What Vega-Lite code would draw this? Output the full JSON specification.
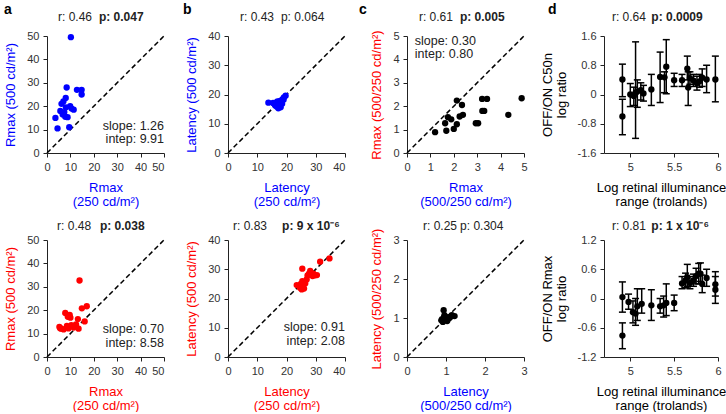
{
  "$schema": "https://vega.github.io/schema/vega-lite/v6.json",
  "background": "white",
  "padding": {"left": 0, "top": 3, "right": 0, "bottom": 0},
  "config": {
    "view": {"stroke": null},
    "font": "Liberation Sans",
    "axis": {"domain": true, "ticks": true, "grid": false, "labelOverlap": false, "labelFlush": false, "domainColor": "#222222", "tickColor": "#222222", "labelColor": "#333333", "labelFontSize": 11, "titleFontSize": 13, "titleFontWeight": "normal", "tickSize": 4, "labelPadding": 4, "titlePadding": 9, "titleLineHeight": 14}
  },
  "datasets": {
    "note": [{"k": 1}],
    "aTop": [{"x":10.2,"y":49.5},{"x":8.4,"y":28},{"x":12.8,"y":27},{"x":14.8,"y":27},{"x":14.8,"y":25},{"x":8,"y":23.5},{"x":7,"y":22},{"x":5.7,"y":18},{"x":7.4,"y":17.5},{"x":8.1,"y":19.5},{"x":9.9,"y":20},{"x":11.4,"y":18.5},{"x":7.8,"y":15.5},{"x":8.8,"y":15.3},{"x":6.7,"y":16.5},{"x":3.6,"y":15},{"x":4.5,"y":10.5},{"x":9.5,"y":11},{"x":6.2,"y":21},{"x":10.5,"y":19}],
    "aBot": [{"x":13.9,"y":32.7},{"x":14.9,"y":20.8},{"x":17,"y":21.7},{"x":16.1,"y":15.2},{"x":13.2,"y":16.2},{"x":7.8,"y":18.8},{"x":9.7,"y":18},{"x":8.9,"y":17.2},{"x":10,"y":16.8},{"x":5.3,"y":12.9},{"x":6.1,"y":12.1},{"x":8.5,"y":13.3},{"x":10.4,"y":13.6},{"x":11.4,"y":12.6},{"x":13.5,"y":12.1},{"x":7.1,"y":11.8},{"x":12.4,"y":13.9},{"x":5.6,"y":12.3},{"x":9.2,"y":12.2}],
    "bTop": [{"x":13.8,"y":17.2},{"x":15.4,"y":17.1},{"x":16.9,"y":17.6},{"x":17.4,"y":16.6},{"x":18,"y":15.6},{"x":16.6,"y":15.9},{"x":18.6,"y":18.3},{"x":19.1,"y":19},{"x":19.7,"y":19.6},{"x":17.8,"y":17.8},{"x":16.1,"y":16.3},{"x":17.6,"y":17},{"x":18.5,"y":16.8},{"x":17.2,"y":15.3},{"x":16.4,"y":17.2},{"x":19,"y":18.2},{"x":15.8,"y":16.8},{"x":18.2,"y":17.3}],
    "bBot": [{"x":34.7,"y":33.7},{"x":31.5,"y":32.6},{"x":25.4,"y":30.2},{"x":28.1,"y":29.4},{"x":29.2,"y":28.5},{"x":27.7,"y":28.5},{"x":30.4,"y":28},{"x":28.9,"y":27.7},{"x":27.2,"y":27.9},{"x":25.4,"y":25.9},{"x":26.9,"y":26.5},{"x":24.9,"y":25},{"x":23.5,"y":24.6},{"x":24.6,"y":23.7},{"x":26,"y":23.4},{"x":25.2,"y":23.1},{"x":26.4,"y":25.1},{"x":29.6,"y":27.9}],
    "cTop": [{"x":1.2,"y":0.89},{"x":1.68,"y":0.95},{"x":2.0,"y":1.03},{"x":1.63,"y":1.27},{"x":2.13,"y":1.23},{"x":1.75,"y":1.53},{"x":1.89,"y":1.44},{"x":2.13,"y":2.24},{"x":2.35,"y":2.05},{"x":2.25,"y":1.56},{"x":2.39,"y":1.63},{"x":2.94,"y":1.27},{"x":3.04,"y":1.27},{"x":3.22,"y":1.8},{"x":3.3,"y":1.8},{"x":3.21,"y":2.31},{"x":3.42,"y":2.31},{"x":4.33,"y":1.63},{"x":4.9,"y":2.34}],
    "cBot": [{"x":0.94,"y":1.2},{"x":0.96,"y":1.07},{"x":0.88,"y":0.94},{"x":0.92,"y":0.9},{"x":1.0,"y":0.96},{"x":1.09,"y":1.0},{"x":1.22,"y":1.05},{"x":1.03,"y":0.92},{"x":0.98,"y":0.99},{"x":1.12,"y":1.04},{"x":1.05,"y":0.97},{"x":0.9,"y":0.97},{"x":0.95,"y":1.02},{"x":1.15,"y":1.07},{"x":1.0,"y":1.03}],
    "dTop": [{"x":4.91,"y":0.41,"lo":-0.06,"hi":0.83},{"x":4.91,"y":-0.6,"lo":-1.1,"hi":-0.13},{"x":5.0,"y":0.0,"lo":-0.33,"hi":0.3},{"x":5.04,"y":-0.04,"lo":-0.3,"hi":0.2},{"x":5.06,"y":0.05,"lo":-1.2,"hi":1.44},{"x":5.08,"y":0.08,"lo":-0.35,"hi":0.4},{"x":5.12,"y":0.12,"lo":-0.15,"hi":0.32},{"x":5.15,"y":0.03,"lo":-0.18,"hi":0.25},{"x":5.24,"y":0.14,"lo":-0.3,"hi":0.55},{"x":5.34,"y":0.48,"lo":-0.22,"hi":1.16},{"x":5.39,"y":0.47,"lo":0.05,"hi":0.62},{"x":5.41,"y":0.76,"lo":0.02,"hi":1.5},{"x":5.5,"y":0.39,"lo":0.22,"hi":0.58},{"x":5.59,"y":0.39,"lo":0.22,"hi":0.55},{"x":5.65,"y":0.71,"lo":0.4,"hi":1.05},{"x":5.66,"y":0.19,"lo":-0.3,"hi":0.62},{"x":5.68,"y":0.45,"lo":0.28,"hi":0.62},{"x":5.72,"y":0.38,"lo":0.22,"hi":0.55},{"x":5.76,"y":0.31,"lo":0.12,"hi":0.5},{"x":5.79,"y":0.36,"lo":0.2,"hi":0.55},{"x":5.82,"y":0.46,"lo":0.22,"hi":0.7},{"x":5.87,"y":0.41,"lo":0.05,"hi":0.8},{"x":5.97,"y":0.41,"lo":-0.2,"hi":1.05}],
    "dBot": [{"x":4.91,"y":0.03,"lo":-0.28,"hi":0.34},{"x":4.91,"y":-0.76,"lo":-1.03,"hi":-0.5},{"x":4.98,"y":-0.07,"lo":-0.22,"hi":0.09},{"x":5.03,"y":-0.28,"lo":-0.5,"hi":-0.05},{"x":5.06,"y":-0.31,"lo":-0.55,"hi":0.0},{"x":5.08,"y":-0.16,"lo":-0.45,"hi":0.2},{"x":5.13,"y":-0.11,"lo":-0.3,"hi":0.2},{"x":5.24,"y":-0.14,"lo":-0.45,"hi":0.18},{"x":5.34,"y":-0.16,"lo":-0.3,"hi":0.0},{"x":5.38,"y":-0.14,"lo":-0.38,"hi":0.05},{"x":5.41,"y":-0.09,"lo":-0.35,"hi":0.3},{"x":5.5,"y":-0.09,"lo":-0.25,"hi":0.07},{"x":5.59,"y":0.31,"lo":0.2,"hi":0.45},{"x":5.63,"y":0.37,"lo":0.22,"hi":0.52},{"x":5.65,"y":0.44,"lo":0.25,"hi":0.7},{"x":5.68,"y":0.32,"lo":0.2,"hi":0.45},{"x":5.72,"y":0.37,"lo":0.25,"hi":0.5},{"x":5.75,"y":0.46,"lo":0.3,"hi":0.62},{"x":5.78,"y":0.51,"lo":0.3,"hi":0.72},{"x":5.8,"y":0.51,"lo":0.35,"hi":0.73},{"x":5.82,"y":0.3,"lo":0.12,"hi":0.48},{"x":5.87,"y":0.42,"lo":0.25,"hi":0.6},{"x":5.97,"y":0.29,"lo":0.05,"hi":0.55},{"x":5.97,"y":0.18,"lo":-0.1,"hi":0.45}]
  },
  "columns": 4,
  "spacing": {"column": 0, "row": 11},
  "bounds": "full",
  "align": "each",
  "concat": [
    {
      "width": 117, "height": 117,
      "layer": [
        {"data": {"name": "note"}, "mark": {"type": "rule", "strokeDash": [5, 3], "strokeWidth": 1.5, "color": "#000"}, "encoding": {"x": {"datum": 0, "type": "quantitative", "axis": {"domain": true, "ticks": true, "labelOverlap": false, "values": [0,10,20,30,40,50]}}, "y": {"datum": 0, "type": "quantitative", "axis": {"domain": true, "ticks": true, "labelOverlap": false, "values": [0,10,20,30,40,50]}}, "x2": {"datum": 50}, "y2": {"datum": 50}}},
        {"data": {"name": "note"}, "mark": {"type": "rule", "opacity": 0, "strokeWidth": 0.01}, "encoding": {"x": {"datum": -19.66, "type": "quantitative", "axis": {"domain": true, "ticks": true, "labelOverlap": false, "values": [0,10,20,30,40,50]}}, "x2": {"datum": 55.56}, "y": {"datum": 25, "type": "quantitative", "axis": {"domain": true, "ticks": true, "labelOverlap": false, "values": [0,10,20,30,40,50]}}}},
        {"data": {"name": "aTop"}, "mark": {"type": "circle", "size": 40, "color": "#0000ff", "opacity": 1}, "encoding": {"x": {"field": "x", "type": "quantitative", "scale": {"domain": [0, 50], "nice": false, "zero": false}, "axis": {"domain": true, "ticks": true, "labelOverlap": false, "values": [0,10,20,30,40,50], "title": ["Rmax", "(250 cd/m²)"], "titleColor": "#0000ff", "labelAlign": {"condition": {"test": "datum.value == 50", "value": "right"}, "value": "center"}}}, "y": {"field": "y", "type": "quantitative", "scale": {"domain": [0, 50], "nice": false, "zero": false}, "axis": {"domain": true, "ticks": true, "labelOverlap": false, "values": [0,10,20,30,40,50], "title": "Rmax (500 cd/m²)", "titleColor": "#0000ff"}}}},
        {"data": {"name": "note"}, "mark": {"type": "text", "text": "a", "fontSize": 14, "fontWeight": "bold", "color": "#000", "align": "left", "baseline": "alphabetic"}, "encoding": {"x": {"datum": -18.4, "type": "quantitative", "axis": {"domain": true, "ticks": true, "labelOverlap": false, "values": [0,10,20,30,40,50]}}, "y": {"datum": 59.4, "type": "quantitative", "axis": {"domain": true, "ticks": true, "labelOverlap": false, "values": [0,10,20,30,40,50]}}}},
        {"data": {"name": "note"}, "mark": {"type": "text", "text": "r: 0.46", "fontSize": 12, "color": "#222", "align": "left", "baseline": "alphabetic"}, "encoding": {"x": {"datum": 4.7, "type": "quantitative", "axis": {"domain": true, "ticks": true, "labelOverlap": false, "values": [0,10,20,30,40,50]}}, "y": {"datum": 56.4, "type": "quantitative", "axis": {"domain": true, "ticks": true, "labelOverlap": false, "values": [0,10,20,30,40,50]}}}},
        {"data": {"name": "note"}, "mark": {"type": "text", "text": "p: 0.047", "fontWeight": "bold", "fontSize": 12, "color": "#222", "align": "left", "baseline": "alphabetic"}, "encoding": {"x": {"datum": 22.2, "type": "quantitative", "axis": {"domain": true, "ticks": true, "labelOverlap": false, "values": [0,10,20,30,40,50]}}, "y": {"datum": 56.4, "type": "quantitative", "axis": {"domain": true, "ticks": true, "labelOverlap": false, "values": [0,10,20,30,40,50]}}}},
        {"data": {"name": "note"}, "mark": {"type": "text", "text": "slope: 1.26", "align": "right", "baseline": "alphabetic", "fontSize": 12.5, "color": "#222"}, "encoding": {"x": {"datum": 50, "type": "quantitative", "axis": {"domain": true, "ticks": true, "labelOverlap": false, "values": [0,10,20,30,40,50]}}, "y": {"datum": 10.0, "type": "quantitative", "axis": {"domain": true, "ticks": true, "labelOverlap": false, "values": [0,10,20,30,40,50]}}}},
        {"data": {"name": "note"}, "mark": {"type": "text", "text": "intep: 9.91", "align": "right", "baseline": "alphabetic", "fontSize": 12.5, "color": "#222"}, "encoding": {"x": {"datum": 50, "type": "quantitative", "axis": {"domain": true, "ticks": true, "labelOverlap": false, "values": [0,10,20,30,40,50]}}, "y": {"datum": 4.2, "type": "quantitative", "axis": {"domain": true, "ticks": true, "labelOverlap": false, "values": [0,10,20,30,40,50]}}}}
      ]
    },
    {
      "width": 117, "height": 117,
      "layer": [
        {"data": {"name": "note"}, "mark": {"type": "rule", "strokeDash": [5, 3], "strokeWidth": 1.5, "color": "#000"}, "encoding": {"x": {"datum": 0, "type": "quantitative", "axis": {"domain": true, "ticks": true, "labelOverlap": false, "values": [0,10,20,30,40]}}, "y": {"datum": 0, "type": "quantitative", "axis": {"domain": true, "ticks": true, "labelOverlap": false, "values": [0,10,20,30,40]}}, "x2": {"datum": 40}, "y2": {"datum": 40}}},
        {"data": {"name": "note"}, "mark": {"type": "rule", "opacity": 0, "strokeWidth": 0.01}, "encoding": {"x": {"datum": -17.09, "type": "quantitative", "axis": {"domain": true, "ticks": true, "labelOverlap": false, "values": [0,10,20,30,40]}}, "x2": {"datum": 43.76}, "y": {"datum": 20, "type": "quantitative", "axis": {"domain": true, "ticks": true, "labelOverlap": false, "values": [0,10,20,30,40]}}}},
        {"data": {"name": "bTop"}, "mark": {"type": "circle", "size": 40, "color": "#0000ff", "opacity": 1}, "encoding": {"x": {"field": "x", "type": "quantitative", "scale": {"domain": [0, 40], "nice": false, "zero": false}, "axis": {"domain": true, "ticks": true, "labelOverlap": false, "values": [0,10,20,30,40], "title": ["Latency", "(250 cd/m²)"], "titleColor": "#0000ff", "labelAlign": {"condition": {"test": "datum.value == 40", "value": "right"}, "value": "center"}}}, "y": {"field": "y", "type": "quantitative", "scale": {"domain": [0, 40], "nice": false, "zero": false}, "axis": {"domain": true, "ticks": true, "labelOverlap": false, "values": [0,10,20,30,40], "title": "Latency (500 cd/m²)", "titleColor": "#0000ff"}}}},
        {"data": {"name": "note"}, "mark": {"type": "text", "text": "b", "fontSize": 14, "fontWeight": "bold", "color": "#000", "align": "left", "baseline": "alphabetic"}, "encoding": {"x": {"datum": -15.4, "type": "quantitative", "axis": {"domain": true, "ticks": true, "labelOverlap": false, "values": [0,10,20,30,40]}}, "y": {"datum": 47.5, "type": "quantitative", "axis": {"domain": true, "ticks": true, "labelOverlap": false, "values": [0,10,20,30,40]}}}},
        {"data": {"name": "note"}, "mark": {"type": "text", "text": "r: 0.43", "fontSize": 12, "color": "#222", "align": "left", "baseline": "alphabetic"}, "encoding": {"x": {"datum": 4.1, "type": "quantitative", "axis": {"domain": true, "ticks": true, "labelOverlap": false, "values": [0,10,20,30,40]}}, "y": {"datum": 45.1, "type": "quantitative", "axis": {"domain": true, "ticks": true, "labelOverlap": false, "values": [0,10,20,30,40]}}}},
        {"data": {"name": "note"}, "mark": {"type": "text", "text": "p: 0.064", "fontSize": 12, "color": "#222", "align": "left", "baseline": "alphabetic"}, "encoding": {"x": {"datum": 18.1, "type": "quantitative", "axis": {"domain": true, "ticks": true, "labelOverlap": false, "values": [0,10,20,30,40]}}, "y": {"datum": 45.1, "type": "quantitative", "axis": {"domain": true, "ticks": true, "labelOverlap": false, "values": [0,10,20,30,40]}}}}
      ]
    },
    {
      "width": 117, "height": 117,
      "layer": [
        {"data": {"name": "note"}, "mark": {"type": "rule", "strokeDash": [5, 3], "strokeWidth": 1.5, "color": "#000"}, "encoding": {"x": {"datum": 0, "type": "quantitative", "axis": {"domain": true, "ticks": true, "labelOverlap": false, "values": [0,1,2,3,4,5]}}, "y": {"datum": 0, "type": "quantitative", "axis": {"domain": true, "ticks": true, "labelOverlap": false, "values": [0,1,2,3,4,5]}}, "x2": {"datum": 5}, "y2": {"datum": 5}}},
        {"data": {"name": "note"}, "mark": {"type": "rule", "opacity": 0, "strokeWidth": 0.01}, "encoding": {"x": {"datum": -2.137, "type": "quantitative", "axis": {"domain": true, "ticks": true, "labelOverlap": false, "values": [0,1,2,3,4,5]}}, "x2": {"datum": 5.385}, "y": {"datum": 2.5, "type": "quantitative", "axis": {"domain": true, "ticks": true, "labelOverlap": false, "values": [0,1,2,3,4,5]}}}},
        {"data": {"name": "cTop"}, "mark": {"type": "circle", "size": 40, "color": "#000", "opacity": 1}, "encoding": {"x": {"field": "x", "type": "quantitative", "scale": {"domain": [0, 5], "nice": false, "zero": false}, "axis": {"domain": true, "ticks": true, "labelOverlap": false, "values": [0,1,2,3,4,5], "title": ["Rmax", "(500/250 cd/m²)"], "titleColor": "#0000ff"}}, "y": {"field": "y", "type": "quantitative", "scale": {"domain": [0, 5], "nice": false, "zero": false}, "axis": {"domain": true, "ticks": true, "labelOverlap": false, "values": [0,1,2,3,4,5], "title": "Rmax (500/250 cd/m²)", "titleColor": "#ff0000"}}}},
        {"data": {"name": "note"}, "mark": {"type": "text", "text": "c", "fontSize": 14, "fontWeight": "bold", "color": "#000", "align": "left", "baseline": "alphabetic"}, "encoding": {"x": {"datum": -2.05, "type": "quantitative", "axis": {"domain": true, "ticks": true, "labelOverlap": false, "values": [0,1,2,3,4,5]}}, "y": {"datum": 5.94, "type": "quantitative", "axis": {"domain": true, "ticks": true, "labelOverlap": false, "values": [0,1,2,3,4,5]}}}},
        {"data": {"name": "note"}, "mark": {"type": "text", "text": "r: 0.61", "fontSize": 12, "color": "#222", "align": "left", "baseline": "alphabetic"}, "encoding": {"x": {"datum": 0.51, "type": "quantitative", "axis": {"domain": true, "ticks": true, "labelOverlap": false, "values": [0,1,2,3,4,5]}}, "y": {"datum": 5.64, "type": "quantitative", "axis": {"domain": true, "ticks": true, "labelOverlap": false, "values": [0,1,2,3,4,5]}}}},
        {"data": {"name": "note"}, "mark": {"type": "text", "text": "p: 0.005", "fontWeight": "bold", "fontSize": 12, "color": "#222", "align": "left", "baseline": "alphabetic"}, "encoding": {"x": {"datum": 2.26, "type": "quantitative", "axis": {"domain": true, "ticks": true, "labelOverlap": false, "values": [0,1,2,3,4,5]}}, "y": {"datum": 5.64, "type": "quantitative", "axis": {"domain": true, "ticks": true, "labelOverlap": false, "values": [0,1,2,3,4,5]}}}},
        {"data": {"name": "note"}, "mark": {"type": "text", "text": "slope: 0.30", "fontSize": 12.5, "color": "#222", "align": "left", "baseline": "alphabetic"}, "encoding": {"x": {"datum": 0.33, "type": "quantitative", "axis": {"domain": true, "ticks": true, "labelOverlap": false, "values": [0,1,2,3,4,5]}}, "y": {"datum": 4.62, "type": "quantitative", "axis": {"domain": true, "ticks": true, "labelOverlap": false, "values": [0,1,2,3,4,5]}}}},
        {"data": {"name": "note"}, "mark": {"type": "text", "text": "intep: 0.80", "fontSize": 12.5, "color": "#222", "align": "left", "baseline": "alphabetic"}, "encoding": {"x": {"datum": 0.33, "type": "quantitative", "axis": {"domain": true, "ticks": true, "labelOverlap": false, "values": [0,1,2,3,4,5]}}, "y": {"datum": 4.04, "type": "quantitative", "axis": {"domain": true, "ticks": true, "labelOverlap": false, "values": [0,1,2,3,4,5]}}}}
      ]
    },
    {
      "width": 114, "height": 117,
      "layer": [
        {"data": {"name": "dTop"}, "mark": {"type": "rule", "color": "#000", "strokeWidth": 1.5}, "encoding": {"x": {"field": "x", "type": "quantitative", "axis": {"domain": true, "ticks": true, "labelOverlap": false, "values": [5, 5.5, 6]}}, "y": {"field": "lo", "type": "quantitative", "axis": {"domain": true, "ticks": true, "labelOverlap": false, "values": [-1.6, -0.8, 0, 0.8, 1.6]}}, "y2": {"field": "hi"}}},
        {"data": {"name": "note"}, "mark": {"type": "rule", "opacity": 0, "strokeWidth": 0.01}, "encoding": {"x": {"datum": 3.902, "type": "quantitative", "axis": {"domain": true, "ticks": true, "labelOverlap": false, "values": [5, 5.5, 6]}}, "x2": {"datum": 6.0}, "y": {"datum": 0, "type": "quantitative", "axis": {"domain": true, "ticks": true, "labelOverlap": false, "values": [-1.6, -0.8, 0, 0.8, 1.6]}}}},
        {"data": {"name": "dTop"}, "mark": {"type": "tick", "orient": "horizontal", "size": 7, "thickness": 1.5, "color": "#000", "opacity": 1}, "encoding": {"x": {"field": "x", "type": "quantitative", "axis": {"domain": true, "ticks": true, "labelOverlap": false, "values": [5, 5.5, 6]}}, "y": {"field": "lo", "type": "quantitative", "axis": {"domain": true, "ticks": true, "labelOverlap": false, "values": [-1.6, -0.8, 0, 0.8, 1.6]}}}},
        {"data": {"name": "dTop"}, "mark": {"type": "tick", "orient": "horizontal", "size": 7, "thickness": 1.5, "color": "#000", "opacity": 1}, "encoding": {"x": {"field": "x", "type": "quantitative", "axis": {"domain": true, "ticks": true, "labelOverlap": false, "values": [5, 5.5, 6]}}, "y": {"field": "hi", "type": "quantitative", "axis": {"domain": true, "ticks": true, "labelOverlap": false, "values": [-1.6, -0.8, 0, 0.8, 1.6]}}}},
        {"data": {"name": "dTop"}, "mark": {"type": "circle", "size": 40, "color": "#000", "opacity": 1}, "encoding": {"x": {"field": "x", "type": "quantitative", "scale": {"domain": [4.7, 6], "nice": false, "zero": false}, "axis": {"domain": true, "ticks": true, "labelOverlap": false, "values": [5, 5.5, 6], "labelExpr": "datum.value + ''", "title": ["Log retinal illuminance", "range (trolands)"], "titleColor": "#000"}}, "y": {"field": "y", "type": "quantitative", "scale": {"domain": [-1.6, 1.6], "nice": false, "zero": false}, "axis": {"domain": true, "ticks": true, "labelOverlap": false, "values": [-1.6, -0.8, 0, 0.8, 1.6], "labelExpr": "datum.value == 0 ? '0' : replace(format(datum.value, '.1f'), '−', '-')", "title": ["OFF/ON C50n", "log ratio"], "titleColor": "#000"}}}},
        {"data": {"name": "note"}, "mark": {"type": "text", "text": "d", "fontSize": 14, "fontWeight": "bold", "color": "#000", "align": "left", "baseline": "alphabetic"}, "encoding": {"x": {"datum": 4.06, "type": "quantitative", "axis": {"domain": true, "ticks": true, "labelOverlap": false, "values": [5, 5.5, 6]}}, "y": {"datum": 2.2, "type": "quantitative", "axis": {"domain": true, "ticks": true, "labelOverlap": false, "values": [-1.6, -0.8, 0, 0.8, 1.6]}}}},
        {"data": {"name": "note"}, "mark": {"type": "text", "text": "r: 0.64", "fontSize": 12, "color": "#222", "align": "left", "baseline": "alphabetic"}, "encoding": {"x": {"datum": 4.79, "type": "quantitative", "axis": {"domain": true, "ticks": true, "labelOverlap": false, "values": [5, 5.5, 6]}}, "y": {"datum": 2.01, "type": "quantitative", "axis": {"domain": true, "ticks": true, "labelOverlap": false, "values": [-1.6, -0.8, 0, 0.8, 1.6]}}}},
        {"data": {"name": "note"}, "mark": {"type": "text", "text": "p: 0.0009", "fontWeight": "bold", "fontSize": 12, "color": "#222", "align": "left", "baseline": "alphabetic"}, "encoding": {"x": {"datum": 5.24, "type": "quantitative", "axis": {"domain": true, "ticks": true, "labelOverlap": false, "values": [5, 5.5, 6]}}, "y": {"datum": 2.01, "type": "quantitative", "axis": {"domain": true, "ticks": true, "labelOverlap": false, "values": [-1.6, -0.8, 0, 0.8, 1.6]}}}}
      ]
    },
    {
      "width": 117, "height": 117,
      "layer": [
        {"data": {"name": "note"}, "mark": {"type": "rule", "strokeDash": [5, 3], "strokeWidth": 1.5, "color": "#000"}, "encoding": {"x": {"datum": 0, "type": "quantitative", "axis": {"domain": true, "ticks": true, "labelOverlap": false, "values": [0,10,20,30,40,50]}}, "y": {"datum": 0, "type": "quantitative", "axis": {"domain": true, "ticks": true, "labelOverlap": false, "values": [0,10,20,30,40,50]}}, "x2": {"datum": 50}, "y2": {"datum": 50}}},
        {"data": {"name": "note"}, "mark": {"type": "rule", "opacity": 0, "strokeWidth": 0.01}, "encoding": {"x": {"datum": -19.66, "type": "quantitative", "axis": {"domain": true, "ticks": true, "labelOverlap": false, "values": [0,10,20,30,40,50]}}, "x2": {"datum": 55.56}, "y": {"datum": 25, "type": "quantitative", "axis": {"domain": true, "ticks": true, "labelOverlap": false, "values": [0,10,20,30,40,50]}}}},
        {"data": {"name": "aBot"}, "mark": {"type": "circle", "size": 40, "color": "#ff0000", "opacity": 1}, "encoding": {"x": {"field": "x", "type": "quantitative", "scale": {"domain": [0, 50], "nice": false, "zero": false}, "axis": {"domain": true, "ticks": true, "labelOverlap": false, "values": [0,10,20,30,40,50], "title": ["Rmax", "(250 cd/m²)"], "titleColor": "#ff0000", "labelAlign": {"condition": {"test": "datum.value == 50", "value": "right"}, "value": "center"}}}, "y": {"field": "y", "type": "quantitative", "scale": {"domain": [0, 50], "nice": false, "zero": false}, "axis": {"domain": true, "ticks": true, "labelOverlap": false, "values": [0,10,20,30,40,50], "title": "Rmax (500 cd/m²)", "titleColor": "#ff0000"}}}},
        {"data": {"name": "note"}, "mark": {"type": "text", "text": "r: 0.48", "fontSize": 12, "color": "#222", "align": "left", "baseline": "alphabetic"}, "encoding": {"x": {"datum": 4.3, "type": "quantitative", "axis": {"domain": true, "ticks": true, "labelOverlap": false, "values": [0,10,20,30,40,50]}}, "y": {"datum": 54.3, "type": "quantitative", "axis": {"domain": true, "ticks": true, "labelOverlap": false, "values": [0,10,20,30,40,50]}}}},
        {"data": {"name": "note"}, "mark": {"type": "text", "text": "p: 0.038", "fontWeight": "bold", "fontSize": 12, "color": "#222", "align": "left", "baseline": "alphabetic"}, "encoding": {"x": {"datum": 22.6, "type": "quantitative", "axis": {"domain": true, "ticks": true, "labelOverlap": false, "values": [0,10,20,30,40,50]}}, "y": {"datum": 54.3, "type": "quantitative", "axis": {"domain": true, "ticks": true, "labelOverlap": false, "values": [0,10,20,30,40,50]}}}},
        {"data": {"name": "note"}, "mark": {"type": "text", "text": "slope: 0.70", "align": "right", "baseline": "alphabetic", "fontSize": 12.5, "color": "#222"}, "encoding": {"x": {"datum": 50, "type": "quantitative", "axis": {"domain": true, "ticks": true, "labelOverlap": false, "values": [0,10,20,30,40,50]}}, "y": {"datum": 10.3, "type": "quantitative", "axis": {"domain": true, "ticks": true, "labelOverlap": false, "values": [0,10,20,30,40,50]}}}},
        {"data": {"name": "note"}, "mark": {"type": "text", "text": "intep: 8.58", "align": "right", "baseline": "alphabetic", "fontSize": 12.5, "color": "#222"}, "encoding": {"x": {"datum": 50, "type": "quantitative", "axis": {"domain": true, "ticks": true, "labelOverlap": false, "values": [0,10,20,30,40,50]}}, "y": {"datum": 4.2, "type": "quantitative", "axis": {"domain": true, "ticks": true, "labelOverlap": false, "values": [0,10,20,30,40,50]}}}}
      ]
    },
    {
      "width": 117, "height": 117,
      "layer": [
        {"data": {"name": "note"}, "mark": {"type": "rule", "strokeDash": [5, 3], "strokeWidth": 1.5, "color": "#000"}, "encoding": {"x": {"datum": 0, "type": "quantitative", "axis": {"domain": true, "ticks": true, "labelOverlap": false, "values": [0,10,20,30,40]}}, "y": {"datum": 0, "type": "quantitative", "axis": {"domain": true, "ticks": true, "labelOverlap": false, "values": [0,10,20,30,40]}}, "x2": {"datum": 40}, "y2": {"datum": 40}}},
        {"data": {"name": "note"}, "mark": {"type": "rule", "opacity": 0, "strokeWidth": 0.01}, "encoding": {"x": {"datum": -17.09, "type": "quantitative", "axis": {"domain": true, "ticks": true, "labelOverlap": false, "values": [0,10,20,30,40]}}, "x2": {"datum": 43.76}, "y": {"datum": 20, "type": "quantitative", "axis": {"domain": true, "ticks": true, "labelOverlap": false, "values": [0,10,20,30,40]}}}},
        {"data": {"name": "bBot"}, "mark": {"type": "circle", "size": 40, "color": "#ff0000", "opacity": 1}, "encoding": {"x": {"field": "x", "type": "quantitative", "scale": {"domain": [0, 40], "nice": false, "zero": false}, "axis": {"domain": true, "ticks": true, "labelOverlap": false, "values": [0,10,20,30,40], "title": ["Latency", "(250 cd/m²)"], "titleColor": "#ff0000", "labelAlign": {"condition": {"test": "datum.value == 40", "value": "right"}, "value": "center"}}}, "y": {"field": "y", "type": "quantitative", "scale": {"domain": [0, 40], "nice": false, "zero": false}, "axis": {"domain": true, "ticks": true, "labelOverlap": false, "values": [0,10,20,30,40], "title": "Latency (500 cd/m²)", "titleColor": "#ff0000"}}}},
        {"data": {"name": "note"}, "mark": {"type": "text", "text": "r: 0.83", "fontSize": 12, "color": "#222", "align": "left", "baseline": "alphabetic"}, "encoding": {"x": {"datum": 1.7, "type": "quantitative", "axis": {"domain": true, "ticks": true, "labelOverlap": false, "values": [0,10,20,30,40]}}, "y": {"datum": 43.4, "type": "quantitative", "axis": {"domain": true, "ticks": true, "labelOverlap": false, "values": [0,10,20,30,40]}}}},
        {"data": {"name": "note"}, "mark": {"type": "text", "text": "p: 9 x 10⁻⁶", "fontWeight": "bold", "fontSize": 12, "color": "#222", "align": "left", "baseline": "alphabetic"}, "encoding": {"x": {"datum": 18.5, "type": "quantitative", "axis": {"domain": true, "ticks": true, "labelOverlap": false, "values": [0,10,20,30,40]}}, "y": {"datum": 43.4, "type": "quantitative", "axis": {"domain": true, "ticks": true, "labelOverlap": false, "values": [0,10,20,30,40]}}}},
        {"data": {"name": "note"}, "mark": {"type": "text", "text": "slope: 0.91", "align": "right", "baseline": "alphabetic", "fontSize": 12.5, "color": "#222"}, "encoding": {"x": {"datum": 40, "type": "quantitative", "axis": {"domain": true, "ticks": true, "labelOverlap": false, "values": [0,10,20,30,40]}}, "y": {"datum": 8.8, "type": "quantitative", "axis": {"domain": true, "ticks": true, "labelOverlap": false, "values": [0,10,20,30,40]}}}},
        {"data": {"name": "note"}, "mark": {"type": "text", "text": "intep: 2.08", "align": "right", "baseline": "alphabetic", "fontSize": 12.5, "color": "#222"}, "encoding": {"x": {"datum": 40, "type": "quantitative", "axis": {"domain": true, "ticks": true, "labelOverlap": false, "values": [0,10,20,30,40]}}, "y": {"datum": 4.0, "type": "quantitative", "axis": {"domain": true, "ticks": true, "labelOverlap": false, "values": [0,10,20,30,40]}}}}
      ]
    },
    {
      "width": 117, "height": 117,
      "layer": [
        {"data": {"name": "note"}, "mark": {"type": "rule", "strokeDash": [5, 3], "strokeWidth": 1.5, "color": "#000"}, "encoding": {"x": {"datum": 0, "type": "quantitative", "axis": {"domain": true, "ticks": true, "labelOverlap": false, "values": [0,1,2,3]}}, "y": {"datum": 0, "type": "quantitative", "axis": {"domain": true, "ticks": true, "labelOverlap": false, "values": [0,1,2,3]}}, "x2": {"datum": 3}, "y2": {"datum": 3}}},
        {"data": {"name": "note"}, "mark": {"type": "rule", "opacity": 0, "strokeWidth": 0.01}, "encoding": {"x": {"datum": -1.282, "type": "quantitative", "axis": {"domain": true, "ticks": true, "labelOverlap": false, "values": [0,1,2,3]}}, "x2": {"datum": 3.231}, "y": {"datum": 1.5, "type": "quantitative", "axis": {"domain": true, "ticks": true, "labelOverlap": false, "values": [0,1,2,3]}}}},
        {"data": {"name": "cBot"}, "mark": {"type": "circle", "size": 40, "color": "#000", "opacity": 1}, "encoding": {"x": {"field": "x", "type": "quantitative", "scale": {"domain": [0, 3], "nice": false, "zero": false}, "axis": {"domain": true, "ticks": true, "labelOverlap": false, "values": [0,1,2,3], "title": ["Latency", "(500/250 cd/m²)"], "titleColor": "#0000ff"}}, "y": {"field": "y", "type": "quantitative", "scale": {"domain": [0, 3], "nice": false, "zero": false}, "axis": {"domain": true, "ticks": true, "labelOverlap": false, "values": [0,1,2,3], "title": "Latency (500/250 cd/m²)", "titleColor": "#ff0000"}}}},
        {"data": {"name": "note"}, "mark": {"type": "text", "text": "r: 0.25", "fontSize": 12, "color": "#222", "align": "left", "baseline": "alphabetic"}, "encoding": {"x": {"datum": 0.41, "type": "quantitative", "axis": {"domain": true, "ticks": true, "labelOverlap": false, "values": [0,1,2,3]}}, "y": {"datum": 3.26, "type": "quantitative", "axis": {"domain": true, "ticks": true, "labelOverlap": false, "values": [0,1,2,3]}}}},
        {"data": {"name": "note"}, "mark": {"type": "text", "text": "p: 0.304", "fontSize": 12, "color": "#222", "align": "left", "baseline": "alphabetic"}, "encoding": {"x": {"datum": 1.36, "type": "quantitative", "axis": {"domain": true, "ticks": true, "labelOverlap": false, "values": [0,1,2,3]}}, "y": {"datum": 3.26, "type": "quantitative", "axis": {"domain": true, "ticks": true, "labelOverlap": false, "values": [0,1,2,3]}}}}
      ]
    },
    {
      "width": 114, "height": 117,
      "layer": [
        {"data": {"name": "dBot"}, "mark": {"type": "rule", "color": "#000", "strokeWidth": 1.5}, "encoding": {"x": {"field": "x", "type": "quantitative", "axis": {"domain": true, "ticks": true, "labelOverlap": false, "values": [5, 5.5, 6]}}, "y": {"field": "lo", "type": "quantitative", "axis": {"domain": true, "ticks": true, "labelOverlap": false, "values": [-1.2, -0.6, 0, 0.6, 1.2]}}, "y2": {"field": "hi"}}},
        {"data": {"name": "note"}, "mark": {"type": "rule", "opacity": 0, "strokeWidth": 0.01}, "encoding": {"x": {"datum": 3.902, "type": "quantitative", "axis": {"domain": true, "ticks": true, "labelOverlap": false, "values": [5, 5.5, 6]}}, "x2": {"datum": 6.0}, "y": {"datum": 0, "type": "quantitative", "axis": {"domain": true, "ticks": true, "labelOverlap": false, "values": [-1.2, -0.6, 0, 0.6, 1.2]}}}},
        {"data": {"name": "dBot"}, "mark": {"type": "tick", "orient": "horizontal", "size": 7, "thickness": 1.5, "color": "#000", "opacity": 1}, "encoding": {"x": {"field": "x", "type": "quantitative", "axis": {"domain": true, "ticks": true, "labelOverlap": false, "values": [5, 5.5, 6]}}, "y": {"field": "lo", "type": "quantitative", "axis": {"domain": true, "ticks": true, "labelOverlap": false, "values": [-1.2, -0.6, 0, 0.6, 1.2]}}}},
        {"data": {"name": "dBot"}, "mark": {"type": "tick", "orient": "horizontal", "size": 7, "thickness": 1.5, "color": "#000", "opacity": 1}, "encoding": {"x": {"field": "x", "type": "quantitative", "axis": {"domain": true, "ticks": true, "labelOverlap": false, "values": [5, 5.5, 6]}}, "y": {"field": "hi", "type": "quantitative", "axis": {"domain": true, "ticks": true, "labelOverlap": false, "values": [-1.2, -0.6, 0, 0.6, 1.2]}}}},
        {"data": {"name": "dBot"}, "mark": {"type": "circle", "size": 40, "color": "#000", "opacity": 1}, "encoding": {"x": {"field": "x", "type": "quantitative", "scale": {"domain": [4.7, 6], "nice": false, "zero": false}, "axis": {"domain": true, "ticks": true, "labelOverlap": false, "values": [5, 5.5, 6], "labelExpr": "datum.value + ''", "title": ["Log retinal illuminance", "range (trolands)"], "titleColor": "#000"}}, "y": {"field": "y", "type": "quantitative", "scale": {"domain": [-1.2, 1.2], "nice": false, "zero": false}, "axis": {"domain": true, "ticks": true, "labelOverlap": false, "values": [-1.2, -0.6, 0, 0.6, 1.2], "labelExpr": "datum.value == 0 ? '0' : replace(format(datum.value, '.1f'), '−', '-')", "title": ["OFF/ON Rmax", "log ratio"], "titleColor": "#000"}}}},
        {"data": {"name": "note"}, "mark": {"type": "text", "text": "r: 0.81", "fontSize": 12, "color": "#222", "align": "left", "baseline": "alphabetic"}, "encoding": {"x": {"datum": 4.79, "type": "quantitative", "axis": {"domain": true, "ticks": true, "labelOverlap": false, "values": [5, 5.5, 6]}}, "y": {"datum": 1.405, "type": "quantitative", "axis": {"domain": true, "ticks": true, "labelOverlap": false, "values": [-1.2, -0.6, 0, 0.6, 1.2]}}}},
        {"data": {"name": "note"}, "mark": {"type": "text", "text": "p: 1 x 10⁻⁶", "fontWeight": "bold", "fontSize": 12, "color": "#222", "align": "left", "baseline": "alphabetic"}, "encoding": {"x": {"datum": 5.24, "type": "quantitative", "axis": {"domain": true, "ticks": true, "labelOverlap": false, "values": [5, 5.5, 6]}}, "y": {"datum": 1.405, "type": "quantitative", "axis": {"domain": true, "ticks": true, "labelOverlap": false, "values": [-1.2, -0.6, 0, 0.6, 1.2]}}}}
      ]
    }
  ]
}
